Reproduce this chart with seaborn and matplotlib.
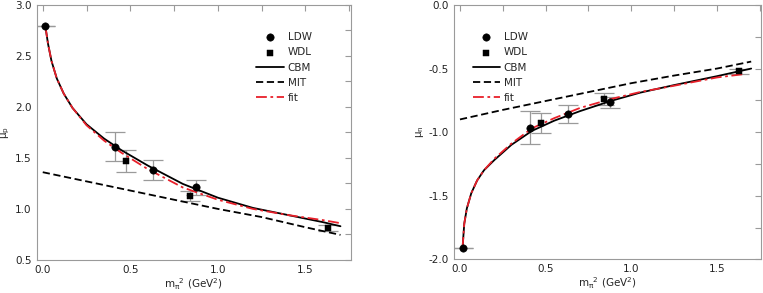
import numpy as np
import pandas as pd
import seaborn as sns
import matplotlib
matplotlib.use('Agg')
import matplotlib.pyplot as plt
from matplotlib.ticker import MultipleLocator

# lattice points, proton
ldw_x = [0.015, 0.41, 0.63, 0.877]
ldw_p = [2.79, 1.61, 1.38, 1.21]
ldw_p_err = [0.0, 0.14, 0.10, 0.07]
wdl_x = [0.475, 0.843, 1.63]
wdl_p = [1.47, 1.13, 0.81]
wdl_p_err = [0.11, 0.05, 0.03]

# lattice points, neutron
ldw_n = [-1.91, -0.965, -0.855, -0.765]
ldw_n_err = [0.0, 0.13, 0.07, 0.045]
wdl_n = [-0.93, -0.74, -0.52]
wdl_n_err = [0.08, 0.05, 0.02]

# model curves
cbm_x = [0.015, 0.03, 0.05, 0.08, 0.12, 0.17, 0.25, 0.35, 0.45, 0.6, 0.8, 1.0, 1.2, 1.4, 1.6, 1.7]
cbm_p = [2.79, 2.62, 2.45, 2.28, 2.13, 1.99, 1.83, 1.69, 1.575, 1.425, 1.245, 1.11, 1.01, 0.94, 0.87, 0.83]
fit_p = [2.79, 2.62, 2.45, 2.28, 2.13, 1.99, 1.82, 1.67, 1.55, 1.39, 1.21, 1.09, 1.00, 0.94, 0.89, 0.86]
mit_x = [0.0, 0.25, 0.5, 0.75, 1.0, 1.25, 1.5, 1.7]
mit_p = [1.36, 1.27, 1.18, 1.09, 1.00, 0.92, 0.82, 0.745]

cbm_nx = [0.015, 0.025, 0.04, 0.066, 0.1, 0.14, 0.2, 0.3, 0.42, 0.55, 0.7, 0.88, 1.05, 1.25, 1.5, 1.7]
cbm_n = [-1.91, -1.72, -1.60, -1.48, -1.38, -1.30, -1.22, -1.10, -0.99, -0.91, -0.835, -0.755, -0.69, -0.63, -0.56, -0.50]
fit_nx = [0.015, 0.025, 0.04, 0.066, 0.1, 0.14, 0.2, 0.3, 0.42, 0.55, 0.7, 0.88, 1.05, 1.25, 1.5, 1.65]
fit_n = [-1.91, -1.72, -1.60, -1.48, -1.38, -1.30, -1.21, -1.09, -0.97, -0.89, -0.81, -0.74, -0.685, -0.635, -0.57, -0.545]
mit_n = [-0.90, -0.825, -0.755, -0.685, -0.615, -0.555, -0.50, -0.445]

sns.set_style("white")
plt.rcParams['font.family'] = ['DejaVu Sans']
plt.rcParams['font.size'] = 7.5
plt.rcParams['mathtext.default'] = 'regular'

fig = plt.figure(figsize=(7.63, 2.93), dpi=100)
ax1 = fig.add_axes([0.048, 0.113, 0.412, 0.87])
ax2 = fig.add_axes([0.595, 0.115, 0.403, 0.868])

gray = '#9a9a9a'
red = '#e8202a'


def panel(ax, cx, cy, fx, fy, my, ly, lerr, wy, werr):
    sns.lineplot(x=cx, y=cy, ax=ax, color='black', lw=1.3, sort=False, estimator=None, label='CBM')
    sns.lineplot(x=mit_x, y=my, ax=ax, color='black', lw=1.3, sort=False, estimator=None, label='MIT')
    ax.lines[-1].set_dashes((4, 2))
    sns.lineplot(x=fx, y=fy, ax=ax, color=red, lw=1.3, sort=False, estimator=None, label='fit')
    ax.lines[-1].set_dashes((6, 2, 1.5, 2))
    ax.errorbar(ldw_x, ly, yerr=lerr, fmt='none', ecolor=gray, elinewidth=0.9, capsize=7, capthick=0.9, zorder=1)
    ax.errorbar(wdl_x, wy, yerr=werr, fmt='none', ecolor=gray, elinewidth=0.9, capsize=7, capthick=0.9, zorder=1)
    sns.scatterplot(x=ldw_x, y=ly, ax=ax, marker='o', s=28, color='black', edgecolor='black', label='LDW', zorder=5)
    sns.scatterplot(x=wdl_x, y=wy, ax=ax, marker='s', s=18, color='black', edgecolor='black', label='WDL', zorder=5)
    ax.set_xlim(-0.035, 1.76)
    ax.xaxis.set_major_locator(MultipleLocator(0.5))
    ax.xaxis.set_minor_locator(MultipleLocator(0.25))
    ax.yaxis.set_major_locator(MultipleLocator(0.5))
    ax.yaxis.set_minor_locator(MultipleLocator(0.25))
    ax.xaxis.set_major_formatter(matplotlib.ticker.FormatStrFormatter('%.1f'))
    ax.yaxis.set_major_formatter(matplotlib.ticker.FormatStrFormatter('%.1f'))
    ax.tick_params(which='both', direction='in', top=True, right=True, color=gray, labelcolor='#222222')
    ax.tick_params(which='major', length=4, width=0.8)
    ax.tick_params(which='minor', length=4, width=0.8)
    for s in ax.spines.values():
        s.set_color(gray)
        s.set_linewidth(0.8)
    ax.set_xlabel(r'm$_{\pi}$$^{2}$ (GeV$^{2}$)', labelpad=1)
    h, l = ax.get_legend_handles_labels()
    order = [l.index(k) for k in ['LDW', 'WDL', 'CBM', 'MIT', 'fit']]
    return [h[i] for i in order], [l[i] for i in order]


h, l = panel(ax1, cbm_x, cbm_p, cbm_x, fit_p, mit_p, ldw_p, ldw_p_err, wdl_p, wdl_p_err)
ax1.set_ylim(0.5, 3.0)
ax1.set_ylabel(r'$\mu_p$', labelpad=2)
ax1.legend(h, l, loc='upper right', bbox_to_anchor=(0.905, 0.93), frameon=False, numpoints=1,
           handlelength=2.6, labelspacing=0.5, handletextpad=0.4, fontsize=7.5)

h, l = panel(ax2, cbm_nx, cbm_n, fit_nx, fit_n, mit_n, ldw_n, ldw_n_err, wdl_n, wdl_n_err)
ax2.set_ylim(-2.0, 0.0)
ax2.set_ylabel(r'$\mu_n$', labelpad=2)
ax2.legend(h, l, loc='upper left', bbox_to_anchor=(0.03, 0.93), frameon=False, numpoints=1,
           handlelength=2.6, labelspacing=0.5, handletextpad=0.4, fontsize=7.5)

fig.savefig('out.png', dpi=100)
